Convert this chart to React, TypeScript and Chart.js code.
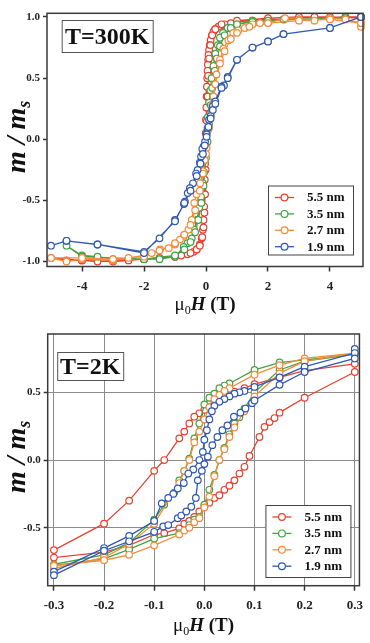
import React, { useEffect, useRef } from 'react';
import { Chart, registerables } from 'chart.js';

Chart.register(...registerables);

// Series (particle sizes) and their colours
const seriesLabels = ['5.5 nm', '3.5 nm', '2.7 nm', '1.9 nm'];
const seriesColors = ['#e8412f', '#43a243', '#f58b3b', '#2f58b3'];

// T = 300 K loops: applied field (T) and normalised moment, down-sweep then up-sweep
const h300_55 = [5, 4.5, 4, 3.5, 3, 2.5, 2, 1.5, 1, 0.8, 0.6, 0.5, 0.4, 0.3, 0.24, 0.19, 0.15, 0.12, 0.1, 0.08, 0.07, 0.06, 0.05, 0.04, 0.03, 0.02, 0.01, 0, -0.01, -0.02, -0.03, -0.04, -0.05, -0.06, -0.08, -0.1, -0.14, -0.2, -0.3, -0.4, -0.6, -0.8, -1, -1.5, -2, -2.5, -3, -3.5, -4, -4.5, -5,
  -4, -3, -2, -1, -0.5, -0.3, -0.2, -0.12, -0.08, -0.05, -0.03, -0.01, 0.01, 0.03, 0.05, 0.07, 0.1, 0.14, 0.2, 0.3, 0.5, 1, 2, 3, 4, 5];
const m300_55 = [1.0, 1.0, 0.99, 1.0, 0.99, 0.98, 0.98, 0.97, 0.96, 0.95, 0.94, 0.93, 0.92, 0.9, 0.88, 0.85, 0.81, 0.77, 0.73, 0.69, 0.65, 0.61, 0.56, 0.5, 0.43, 0.35, 0.26, 0.16, 0.05, -0.07, -0.2, -0.33, -0.45, -0.55, -0.66, -0.74, -0.81, -0.86, -0.9, -0.92, -0.94, -0.95, -0.96, -0.97, -0.98, -0.99, -0.99, -1.0, -0.99, -0.99, -0.97,
  -0.99, -1.0, -0.98, -0.96, -0.93, -0.9, -0.87, -0.8, -0.72, -0.6, -0.45, -0.25, -0.05, 0.15, 0.35, 0.52, 0.66, 0.77, 0.85, 0.9, 0.94, 0.97, 0.99, 1.0, 1.0, 0.99];

const h300_35 = [4.5, 4, 3, 2, 1.5, 1, 0.7, 0.55, 0.45, 0.38, 0.3, 0.24, 0.18, 0.14, 0.1, 0.06, 0.03, 0, -0.03, -0.06, -0.1, -0.16, -0.22, -0.3, -0.38, -0.46, -0.6, -0.72, -1, -1.5, -2, -3, -3.5, -4, -4.5,
  -4, -2, -1, -0.7, -0.5, -0.35, -0.25, -0.15, -0.08, 0, 0.05, 0.1, 0.15, 0.2, 0.28, 0.35, 0.45, 0.6, 0.8, 1, 1.5, 2.5, 4.5];
const m300_35 = [1.0, 0.99, 0.98, 0.97, 0.97, 0.94, 0.91, 0.87, 0.83, 0.77, 0.7, 0.6, 0.5, 0.4, 0.3, 0.18, 0.06, -0.06, -0.17, -0.27, -0.36, -0.47, -0.56, -0.66, -0.74, -0.81, -0.85, -0.88, -0.96, -0.98, -0.98, -0.98, -0.96, -0.95, -0.87,
  -0.96, -0.98, -0.95, -0.9, -0.84, -0.76, -0.66, -0.52, -0.38, -0.15, -0.02, 0.12, 0.28, 0.42, 0.56, 0.66, 0.76, 0.85, 0.91, 0.94, 0.96, 0.98, 0.99];

const h300_27 = [5, 5, 4.5, 4, 3.5, 3, 2.55, 2, 1.74, 1.5, 1.25, 1.04, 0.88, 0.72, 0.56, 0.45, 0.34, 0.24, 0.15, 0.08, 0.02, -0.04, -0.1, -0.19, -0.3, -0.38, -0.46, -0.57, -0.71, -0.84, -1, -1.2, -1.48, -1.75, -2, -2.5, -3, -4, -4.5, -5,
  -4, -3, -2, -1.5, -1, -0.7, -0.5, -0.35, -0.2, -0.1, 0, 0.1, 0.2, 0.3, 0.45, 0.6, 0.8, 1, 1.4, 2, 3, 4, 5];
const m300_27 = [0.92, 0.95, 0.98, 0.99, 0.97, 0.98, 0.99, 0.95, 0.95, 0.94, 0.91, 0.89, 0.87, 0.81, 0.74, 0.65, 0.53, 0.35, 0.2, 0.08, -0.07, -0.17, -0.26, -0.36, -0.45, -0.52, -0.66, -0.74, -0.79, -0.82, -0.86, -0.89, -0.9, -0.93, -0.95, -0.97, -0.99, -0.98, -1.0, -0.97,
  -0.97, -0.98, -0.96, -0.91, -0.85, -0.78, -0.7, -0.58, -0.42, -0.28, -0.12, 0.1, 0.28, 0.45, 0.62, 0.72, 0.82, 0.87, 0.92, 0.95, 0.97, 0.98, 0.95];

const h300_19 = [5, 4, 2.5, 2, 1.5, 1, 0.7, 0.58, 0.5, 0.3, 0.22, 0.15, 0.1, 0.05, 0.02, -0.03, -0.08, -0.12, -0.16, -0.2, -0.27, -0.32, -0.42, -0.52, -0.59, -0.68, -0.71, -1, -1.5, -2, -3.5, -4.5, -5,
  -4.5, -3.5, -2, -1, -0.7, -0.5, -0.3, -0.18, -0.1, -0.04, 0.02, 0.08, 0.15, 0.22, 0.3, 0.5, 0.7, 1, 1.5, 2, 2.5, 4, 5];
const m300_19 = [1.0, 0.91, 0.86, 0.8, 0.75, 0.65, 0.51, 0.44, 0.43, 0.31, 0.27, 0.19, 0.16, 0.09, 0.04, -0.02, -0.06, -0.08, -0.14, -0.19, -0.25, -0.28, -0.36, -0.4, -0.44, -0.51, -0.53, -0.66, -0.81, -0.92, -0.86, -0.83, -0.87,
  -0.83, -0.86, -0.93, -0.67, -0.52, -0.42, -0.3, -0.2, -0.12, -0.05, 0.02, 0.1, 0.17, 0.24, 0.29, 0.42, 0.5, 0.65, 0.75, 0.8, 0.86, 0.91, 1.0];

// T = 2 K loops: applied field (T) and normalised moment, down-sweep then up-sweep
const h2_55 = [0.3, 0.2, 0.15, 0.1, 0.08, 0.06, 0.04, 0.03, 0.02, 0.01, 0, -0.01, -0.02, -0.03, -0.04, -0.05, -0.08, -0.1, -0.15, -0.2, -0.3,
  -0.3, -0.2, -0.15, -0.1, -0.08, -0.05, -0.04, -0.03, -0.02, -0.01, 0, 0.01, 0.02, 0.03, 0.04, 0.05, 0.06, 0.07, 0.08, 0.09, 0.11, 0.12, 0.13, 0.14, 0.15, 0.2, 0.3];
const m2_55 = [0.71, 0.66, 0.61, 0.56, 0.53, 0.505, 0.48, 0.455, 0.43, 0.39, 0.37, 0.345, 0.32, 0.27, 0.21, 0.16, 0.0, -0.08, -0.3, -0.47, -0.665,
  -0.72, -0.68, -0.63, -0.55, -0.54, -0.505, -0.47, -0.45, -0.42, -0.38, -0.345, -0.315, -0.28, -0.26, -0.22, -0.19, -0.15, -0.1, -0.05, 0.03, 0.17, 0.245, 0.28, 0.31, 0.35, 0.46, 0.65];

const h2_35 = [0.3, 0.2, 0.15, 0.1, 0.05, 0.04, 0.03, 0.02, 0.01, 0, -0.01, -0.02, -0.03, -0.04, -0.05, -0.06, -0.08, -0.1, -0.15, -0.2, -0.3,
  -0.3, -0.2, -0.15, -0.1, -0.05, -0.03, -0.02, -0.01, 0, 0.01, 0.02, 0.03, 0.04, 0.05, 0.06, 0.07, 0.08, 0.1, 0.15, 0.2, 0.3];
const m2_35 = [0.78, 0.74, 0.72, 0.665, 0.565, 0.55, 0.53, 0.49, 0.46, 0.41, 0.27, 0.16, 0.01, -0.08, -0.15, -0.24, -0.33, -0.44, -0.61, -0.7, -0.77,
  -0.78, -0.73, -0.66, -0.58, -0.54, -0.48, -0.44, -0.42, -0.33, -0.22, -0.11, 0.0, 0.09, 0.19, 0.27, 0.315, 0.38, 0.5, 0.665, 0.73, 0.78];

const h2_27 = [0.3, 0.2, 0.15, 0.1, 0.05, 0.04, 0.03, 0.02, 0.01, 0, -0.01, -0.02, -0.03, -0.04, -0.05, -0.1, -0.15, -0.2, -0.3,
  -0.3, -0.2, -0.15, -0.1, -0.05, -0.04, -0.03, -0.02, -0.01, 0, 0.01, 0.02, 0.03, 0.04, 0.05, 0.06, 0.08, 0.1, 0.15, 0.2, 0.3];
const m2_27 = [0.79, 0.75, 0.7, 0.63, 0.53, 0.51, 0.48, 0.45, 0.39, 0.3, 0.21, 0.13, 0.0, -0.08, -0.17, -0.47, -0.62, -0.72, -0.8,
  -0.78, -0.74, -0.7, -0.63, -0.55, -0.52, -0.5, -0.46, -0.43, -0.35, -0.27, -0.12, 0.0, 0.08, 0.17, 0.24, 0.36, 0.47, 0.64, 0.73, 0.79];

const h2_19 = [0.3, 0.3, 0.2, 0.15, 0.1, 0.08, 0.07, 0.06, 0.05, 0.04, 0.03, 0.02, 0.015, 0.01, 0.005, 0, -0.003, -0.01, -0.022, -0.032, -0.041, -0.053, -0.062, -0.072, -0.085, -0.1, -0.15, -0.2, -0.3,
  -0.3, -0.2, -0.15, -0.1, -0.082, -0.072, -0.053, -0.046, -0.036, -0.026, -0.017, -0.013, -0.005, 0, 0.007, 0.016, 0.026, 0.036, 0.046, 0.059, 0.072, 0.082, 0.095, 0.1, 0.15, 0.2, 0.3];
const m2_19 = [0.82, 0.79, 0.69, 0.61, 0.54, 0.51, 0.5, 0.49, 0.47, 0.45, 0.43, 0.4, 0.36, 0.3, 0.22, 0.15, 0.06, 0.0, -0.07, -0.1, -0.17, -0.21, -0.25, -0.28, -0.32, -0.45, -0.56, -0.65, -0.825,
  -0.85, -0.67, -0.6, -0.53, -0.49, -0.48, -0.43, -0.41, -0.38, -0.345, -0.28, -0.15, -0.08, -0.03, 0.025, 0.11, 0.17, 0.22, 0.255, 0.32, 0.35, 0.38, 0.42, 0.44, 0.555, 0.65, 0.75];

// Tick positions
const xTicks300 = [-4, -2, 0, 2, 4];
const yTicks300 = [-1, -0.5, 0, 0.5, 1];
const xTicks2 = [-0.3, -0.2, -0.1, 0, 0.1, 0.2, 0.3];
const yTicks2 = [-0.5, 0, 0.5];

const SERIF = '"Liberation Serif", "Times New Roman", serif';

type Box = { dx: number; dy: number; w: number; h: number };
type LegendBox = { dr: number; db: number; w: number; h: number };

type PanelProps = {
  height: number;
  title: string;
  loops: [number[], number[]][];
  xMin: number; xMax: number; yMin: number; yMax: number;
  xTicks: number[]; yTicks: number[]; xDigits: number;
  grid: boolean;
  padTop: number; padRight: number; yAxisWidth: number; xAxisHeight: number;
  titleBox: Box; legendBox: LegendBox; xTitleBaseline: number;
};

function drawRuns(ctx: CanvasRenderingContext2D, parts: { t: string; f: string; dy: number }[], x0: number, y0: number) {
  let x = x0;
  for (const p of parts) {
    ctx.font = p.f;
    ctx.fillText(p.t, x, y0 + p.dy);
    x += ctx.measureText(p.t).width;
  }
}

function runsWidth(ctx: CanvasRenderingContext2D, parts: { t: string; f: string; dy: number }[]) {
  let w = 0;
  for (const p of parts) {
    ctx.font = p.f;
    w += ctx.measureText(p.t).width;
  }
  return w;
}

function Panel(p: PanelProps) {
  const ref = useRef<HTMLCanvasElement>(null);

  useEffect(() => {
    const decor = {
      id: 'panelDecor',
      afterDatasetsDraw(chart: any) {
        const { ctx, chartArea: a } = chart;
        ctx.save();
        // plot frame
        ctx.strokeStyle = '#3a3a3a';
        ctx.lineWidth = 1.5;
        ctx.strokeRect(a.left, a.top, a.right - a.left, a.bottom - a.top);

        // temperature label box
        const tb = p.titleBox;
        const tx = a.left + tb.dx;
        const ty = a.top + tb.dy;
        ctx.fillStyle = '#fff';
        ctx.fillRect(tx, ty, tb.w, tb.h);
        ctx.strokeStyle = '#555';
        ctx.lineWidth = 1;
        ctx.strokeRect(tx + 0.5, ty + 0.5, tb.w, tb.h);
        ctx.fillStyle = '#111';
        ctx.font = `bold 24px ${SERIF}`;
        ctx.textAlign = 'center';
        ctx.textBaseline = 'alphabetic';
        ctx.fillText(p.title, tx + tb.w / 2, ty + tb.h / 2 + 7.5);

        // legend
        const lb = p.legendBox;
        const lx = a.right - lb.dr - lb.w;
        const ly = a.bottom - lb.db - lb.h;
        ctx.fillStyle = '#fff';
        ctx.fillRect(lx, ly, lb.w, lb.h);
        ctx.strokeStyle = '#444';
        ctx.lineWidth = 1;
        ctx.strokeRect(lx + 0.5, ly + 0.5, lb.w, lb.h);
        seriesLabels.forEach((label, i) => {
          const y = ly + 12 + i * 16.4;
          ctx.strokeStyle = seriesColors[i];
          ctx.lineWidth = 1.3;
          ctx.beginPath();
          ctx.moveTo(lx + 7, y);
          ctx.lineTo(lx + 26, y);
          ctx.stroke();
          ctx.beginPath();
          ctx.arc(lx + 16.5, y, 3.4, 0, Math.PI * 2);
          ctx.fillStyle = '#fff';
          ctx.fill();
          ctx.lineWidth = 1.2;
          ctx.stroke();
          ctx.fillStyle = '#111';
          ctx.font = `bold 13px ${SERIF}`;
          ctx.textAlign = 'left';
          ctx.textBaseline = 'middle';
          ctx.fillText(label, lx + 39, y + 0.5);
        });

        // x-axis title: μ0H (T)
        ctx.fillStyle = '#111';
        ctx.textAlign = 'left';
        ctx.textBaseline = 'alphabetic';
        const xParts = [
          { t: 'μ', f: `19px ${SERIF}`, dy: 0 },
          { t: '0', f: `12px ${SERIF}`, dy: 4 },
          { t: 'H', f: `italic bold 19px ${SERIF}`, dy: 0 },
          { t: ' (T)', f: `bold 19px ${SERIF}`, dy: 0 },
        ];
        const xw = runsWidth(ctx, xParts);
        drawRuns(ctx, xParts, (a.left + a.right) / 2 - xw / 2, p.xTitleBaseline);

        // y-axis title: m / m_s
        const yParts = [
          { t: 'm / m', f: `italic bold 28px ${SERIF}`, dy: 0 },
          { t: 's', f: `italic bold 18px ${SERIF}`, dy: 5 },
        ];
        const yw = runsWidth(ctx, yParts);
        ctx.translate(25, (a.top + a.bottom) / 2 - 3);
        ctx.rotate(-Math.PI / 2);
        drawRuns(ctx, yParts, -yw / 2, 0);
        ctx.restore();
      },
    };

    const tickFontX = { family: SERIF, size: 13, weight: 'bold' as const };
    const tickFontY = { family: SERIF, size: 11, weight: 'bold' as const };

    const chart = new Chart(ref.current as HTMLCanvasElement, {
      type: 'scatter',
      data: {
        datasets: p.loops.map(([h, m], i) => ({
          label: seriesLabels[i],
          data: h.map((x, k) => ({ x, y: m[k] })),
          showLine: true,
          borderColor: seriesColors[i],
          borderWidth: 1.3,
          pointRadius: 3.3,
          pointBorderWidth: 1.2,
          pointBackgroundColor: '#fff',
          pointBorderColor: seriesColors[i],
          clip: false as any,
          order: 3 - i,
        })),
      },
      options: {
        responsive: false,
        animation: false,
        events: [],
        layout: { padding: { top: p.padTop, right: p.padRight, left: 0, bottom: 0 } },
        plugins: { legend: { display: false }, tooltip: { enabled: false } },
        scales: {
          x: {
            type: 'linear',
            min: p.xMin,
            max: p.xMax,
            afterFit: (s: any) => { s.height = p.xAxisHeight; },
            afterBuildTicks: (s: any) => { s.ticks = p.xTicks.map((value) => ({ value })); },
            ticks: {
              font: tickFontX,
              color: '#222',
              padding: 7,
              maxRotation: 0,
              autoSkip: false,
              callback: (v: any) => Number(v).toFixed(p.xDigits),
            },
            grid: {
              display: true,
              drawOnChartArea: p.grid,
              drawTicks: true,
              tickLength: 5,
              color: '#8c8c8c',
              lineWidth: 1,
              tickColor: '#333',
              tickWidth: 1.5,
            },
            border: { display: false },
          },
          y: {
            type: 'linear',
            min: p.yMin,
            max: p.yMax,
            afterFit: (s: any) => { s.width = p.yAxisWidth; },
            afterBuildTicks: (s: any) => { s.ticks = p.yTicks.map((value) => ({ value })); },
            ticks: {
              font: tickFontY,
              color: '#222',
              padding: 3,
              autoSkip: false,
              callback: (v: any) => Number(v).toFixed(1),
            },
            grid: {
              display: true,
              drawOnChartArea: p.grid,
              drawTicks: true,
              tickLength: 4,
              color: '#8c8c8c',
              lineWidth: 1,
              tickColor: '#333',
              tickWidth: 1.5,
            },
            border: { display: false },
          },
        },
      },
      plugins: [decor],
    });
    return () => chart.destroy();
  }, []);

  return <canvas ref={ref} width={370} height={p.height} style={{ display: 'block' }} />;
}

export default function App() {
  return (
    <div style={{ position: 'absolute', left: 0, top: 0, width: 370, height: 643, background: '#fff' }}>
      <Panel
        height={318}
        title="T=300K"
        loops={[[h300_55, m300_55], [h300_35, m300_35], [h300_27, m300_27], [h300_19, m300_19]]}
        xMin={-5.13} xMax={5.065} yMin={-1.04} yMax={1.03}
        xTicks={xTicks300} yTicks={yTicks300} xDigits={0}
        grid={false}
        padTop={13.3} padRight={7} yAxisWidth={47} xAxisHeight={51.5}
        titleBox={{ dx: 14.7, dy: 6.7, w: 91, h: 32 }}
        legendBox={{ dr: 10, db: 12, w: 85, h: 69 }}
        xTitleBaseline={310}
      />
      <Panel
        height={325}
        title="T=2K"
        loops={[[h2_55, m2_55], [h2_35, m2_35], [h2_27, m2_27], [h2_19, m2_19]]}
        xMin={-0.3124} xMax={0.3093} yMin={-0.928} yMax={0.9306}
        xTicks={xTicks2} yTicks={yTicks2} xDigits={1}
        grid={true}
        padTop={16} padRight={7} yAxisWidth={47.7} xAxisHeight={57.3}
        titleBox={{ dx: 9.5, dy: 18, w: 66, h: 28 }}
        legendBox={{ dr: 9, db: 8.7, w: 85, h: 72 }}
        xTitleBaseline={313}
      />
    </div>
  );
}
